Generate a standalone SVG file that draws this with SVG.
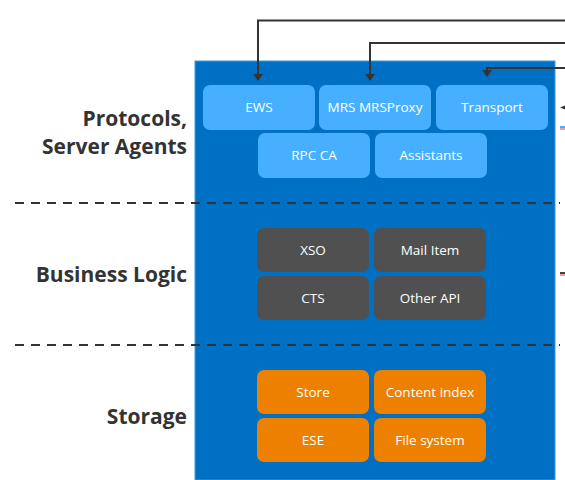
<svg xmlns="http://www.w3.org/2000/svg" width="565" height="480" viewBox="0 0 565 480">
<style>
.lbl{font-family:"Open Sans","Noto Sans","Liberation Sans",sans-serif;font-weight:bold;font-size:21px;fill:#333;text-anchor:end}
.t{font-family:"Open Sans","Noto Sans","Liberation Sans",sans-serif;font-size:13.5px;fill:#fff;text-anchor:middle}
.lb{fill:#47AFFF}
.dk{fill:#505050}
.or{fill:#EE8000}
.dash{stroke:#333;stroke-width:2;stroke-dasharray:9 7;fill:none}
.conn{stroke:#333;stroke-width:2;fill:none}
.ah{fill:#333}
</style>
<rect width="565" height="480" fill="#fff"/>
<rect id="panel" x="195" y="61" width="360" height="419" fill="#0070C4" stroke="#3D9BE0" stroke-width="1"/>
<g id="labels">
<text class="lbl" x="187" y="125.5">Protocols,</text>
<text class="lbl" x="187" y="153.5">Server Agents</text>
<text class="lbl" x="187" y="282">Business Logic</text>
<text class="lbl" x="187" y="424">Storage</text>
</g>
<g id="ews"><rect class="lb" x="203" y="85" width="112" height="45" rx="7"/><text class="t" x="259" y="112">EWS</text></g>
<g id="mrs"><rect class="lb" x="319" y="85" width="112" height="45" rx="7"/><text class="t" x="375" y="112">MRS MRSProxy</text></g>
<g id="transport"><rect class="lb" x="436" y="85" width="112" height="45" rx="7"/><text class="t" x="492" y="112">Transport</text></g>
<g id="rpcca"><rect class="lb" x="258" y="133" width="112" height="45" rx="7"/><text class="t" x="314" y="160">RPC CA</text></g>
<g id="assistants"><rect class="lb" x="375" y="133" width="112" height="45" rx="7"/><text class="t" x="431" y="160">Assistants</text></g>
<g id="xso"><rect class="dk" x="257" y="228" width="112" height="44" rx="7"/><text class="t" x="313" y="255">XSO</text></g>
<g id="mailitem"><rect class="dk" x="374" y="228" width="112" height="44" rx="7"/><text class="t" x="430" y="255">Mail Item</text></g>
<g id="cts"><rect class="dk" x="257" y="276" width="112" height="44" rx="7"/><text class="t" x="313" y="303">CTS</text></g>
<g id="otherapi"><rect class="dk" x="374" y="276" width="112" height="44" rx="7"/><text class="t" x="430" y="303">Other API</text></g>
<g id="store"><rect class="or" x="257" y="370" width="112" height="44" rx="7"/><text class="t" x="313" y="397">Store</text></g>
<g id="contentindex"><rect class="or" x="374" y="370" width="112" height="44" rx="7"/><text class="t" x="430" y="397">Content index</text></g>
<g id="ese"><rect class="or" x="257" y="418" width="112" height="44" rx="7"/><text class="t" x="313" y="445">ESE</text></g>
<g id="filesystem"><rect class="or" x="374" y="418" width="112" height="44" rx="7"/><text class="t" x="430" y="445">File system</text></g>
<g id="dividers">
<line class="dash" x1="15" y1="203" x2="560" y2="203"/>
<line class="dash" x1="15" y1="345" x2="560" y2="345"/>
</g>
<g id="connectors">
<path class="conn" d="M565,20.5 H258 V77"/>
<path class="ah" d="M253,74 L263,74 L258,81 Z"/>
<path class="conn" d="M565,43 H370 V77"/>
<path class="ah" d="M365,74 L375,74 L370,81 Z"/>
<path class="conn" d="M565,68 H487 V72"/>
<path class="ah" d="M482,70 L492,70 L487,77 Z"/>
<path class="ah" d="M560,107.5 L565,105.5 L565,109.5 Z"/>
<line x1="560" y1="127" x2="565" y2="127" stroke="#47AFFF" stroke-width="2"/>
<line x1="560" y1="129" x2="565" y2="129" stroke="#E04040" stroke-width="1"/>
<line x1="560" y1="273" x2="565" y2="273" stroke="#444" stroke-width="2"/>
<line x1="560" y1="275" x2="565" y2="275" stroke="#E04040" stroke-width="1"/>
</g>
</svg>
